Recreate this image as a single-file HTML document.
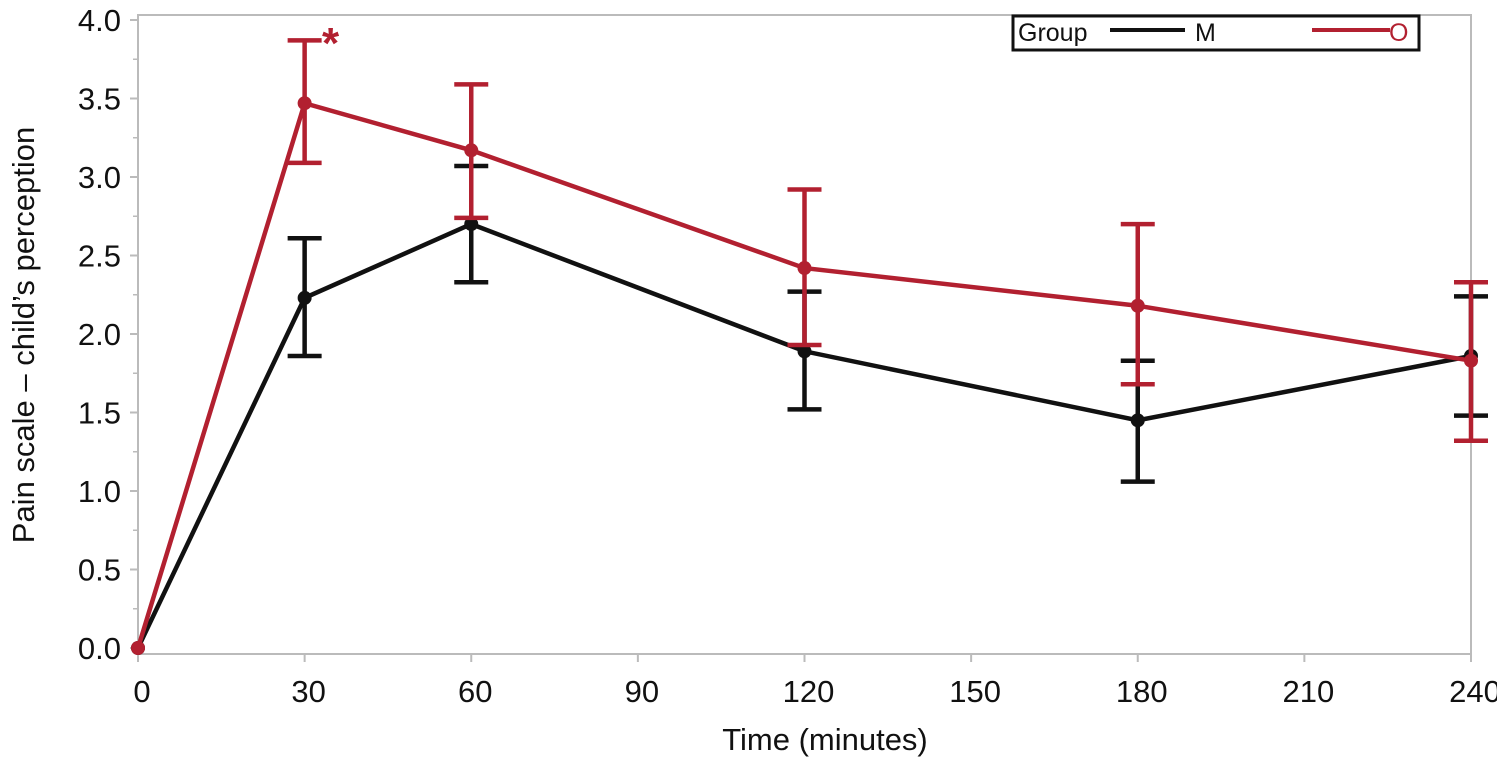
<!DOCTYPE html>
<html><head><meta charset="utf-8"><style>
body{margin:0;background:#fff;}
svg{display:block;font-family:"Liberation Sans",Arial,sans-serif;}
</style></head><body>
<svg id="chart" width="1497" height="758" xmlns="http://www.w3.org/2000/svg">
<rect x="138" y="15" width="1333" height="639" fill="#fff" stroke="#bbb" stroke-width="2"/>
<g id="axes"></g>
<g id="series"></g>
<text x="322" y="58" font-size="44" font-weight="bold" fill="#b22030">*</text>
<text x="825" y="750" font-size="31" text-anchor="middle" fill="#111">Time (minutes)</text>
<text transform="translate(34,335) rotate(-90)" font-size="31" text-anchor="middle" fill="#111">Pain scale – child’s perception</text>
<g>
<rect x="1013" y="16" width="406" height="34" fill="#fff" stroke="#111" stroke-width="3"/>
<text x="1018" y="41" font-size="25" fill="#111">Group</text>
<line x1="1110" y1="30" x2="1185" y2="30" stroke="#111" stroke-width="4"/>
<text x="1195" y="41" font-size="25" fill="#111">M</text>
<line x1="1312" y1="30" x2="1390" y2="30" stroke="#b22030" stroke-width="4"/>
<text x="1389" y="41" font-size="25" fill="#b22030">O</text>
</g>
</svg>
<script>
const times=[0,30,60,120,180,240];
const mMean=[0,2.23,2.70,1.89,1.45,1.86];
const mHigh=[0,2.61,3.07,2.27,1.83,2.24];
const mLow=[0,1.86,2.33,1.52,1.06,1.48];
const oMean=[0,3.47,3.17,2.42,2.18,1.83];
const oHigh=[0,3.87,3.59,2.92,2.70,2.33];
const oLow=[0,3.09,2.74,1.93,1.68,1.32];
const xTicks=[0,30,60,90,120,150,180,210,240];
const yTicks=[0,0.5,1,1.5,2,2.5,3,3.5,4];
const yMinor=[0.25,0.75,1.25,1.75,2.25,2.75,3.25,3.75];
const NS='http://www.w3.org/2000/svg';
function X(t){return 138+(t/240)*1333;}
function Y(v){return 648-v*157;}
function mk(tag,attrs,parent){const e=document.createElementNS(NS,tag);for(const k in attrs)e.setAttribute(k,attrs[k]);parent.appendChild(e);return e;}
const axes=document.getElementById('axes');
xTicks.forEach(t=>{
  const l=mk('line',{x1:X(t),x2:X(t),y1:654,y2:662,stroke:'#bbb','stroke-width':2},axes);
  
  
  const tx=mk('text',{x:X(t)+4,y:702,'font-size':31,'text-anchor':'middle',fill:'#111'},axes);
  tx.textContent=String(t);
  
  
});
yTicks.forEach(v=>{
  const l=mk('line',{x1:130,x2:138,y1:Y(v),y2:Y(v),stroke:'#bbb','stroke-width':2},axes);
  
  
  const tx=mk('text',{x:121,y:Y(v)+11,'font-size':31,'text-anchor':'end',fill:'#111'},axes);
  tx.textContent=v.toFixed(1);
  
  
});
yMinor.forEach(v=>{
  const l=mk('line',{x1:133,x2:138,y1:Y(v),y2:Y(v),stroke:'#bbb','stroke-width':1.5},axes);
  
  
});
const ser=document.getElementById('series');
function drawSeries(mean,hi,lo,color,name){
  const g=mk('g',{},ser);
  
  
  times.forEach((t,i)=>{
    if(i===0)return;
    const x=X(t);
    const e=mk('path',{d:`M${x},${Y(hi[i])}V${Y(lo[i])}M${x-17},${Y(hi[i])}H${x+17}M${x-17},${Y(lo[i])}H${x+17}`,stroke:color,'stroke-width':4.5,fill:'none'},g);
    
    
  });
  const pl=mk('polyline',{points:times.map((t,i)=>X(t)+','+Y(mean[i])).join(' '),stroke:color,'stroke-width':4.5,fill:'none'},g);
  
  
  times.forEach((t,i)=>{
    const c=mk('circle',{cx:X(t),cy:Y(mean[i]),r:7,fill:color},g);
    
    
  });
}
drawSeries(mMean,mHigh,mLow,'#111','group-m');
drawSeries(oMean,oHigh,oLow,'#b22030','group-o');
</script>
</body></html>
